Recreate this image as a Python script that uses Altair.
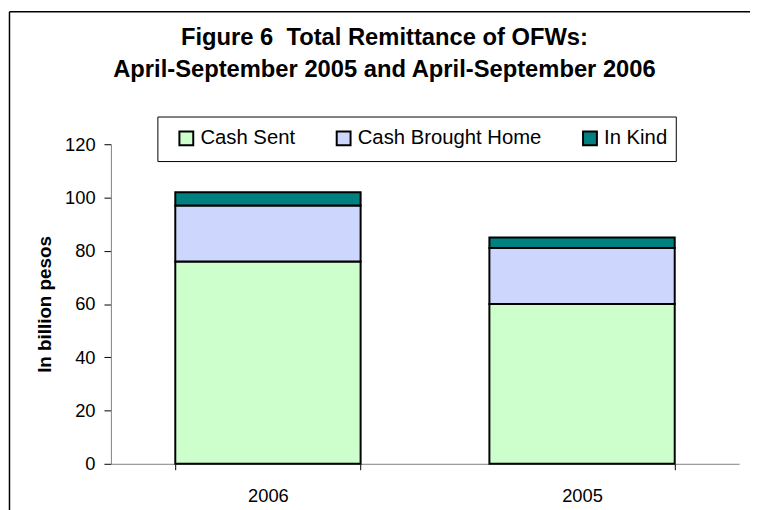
import altair as alt
import pandas as pd

years = ["2006", "2005"]
categories = ["Cash Sent", "Cash Brought Home", "In Kind"]
cash_sent = [76, 60]
cash_brought_home = [21, 21]
in_kind = [5, 4]
colors = ["#ccffcc", "#cdd7fd", "#008080"]
y_ticks = [0, 20, 40, 60, 80, 100, 120]
title_lines = ["Figure 6\u00a0 Total Remittance of OFWs:",
               "April-September 2005 and April-September 2006"]

rows = []
for i, yr in enumerate(years):
    for j, (c, vals) in enumerate(zip(categories, [cash_sent, cash_brought_home, in_kind])):
        rows.append({"year": yr, "type": c, "value": vals[i], "order": j})
df = pd.DataFrame(rows)

W, H = 635, 323
PL, PT = 104, 135
FONT = "Liberation Sans"

bars = alt.Chart(df).mark_bar(stroke="black", strokeWidth=2).encode(
    x=alt.X("year:N", sort=years,
            scale=alt.Scale(paddingInner=0.41, paddingOuter=0.205),
            axis=alt.Axis(title=None, labelAngle=0, tickBand="extent",
                          domainColor="#808080", tickColor="black", tickSize=6,
                          labelPadding=17, labelFontSize=18.5, labelFont=FONT,
                          labelColor="black")),
    y=alt.Y("value:Q", stack="zero", scale=alt.Scale(domain=[0, 120], nice=False),
            axis=alt.Axis(values=y_ticks, title="In billion pesos", grid=False,
                          domainColor="#808080", tickColor="black", tickSize=7,
                          labelPadding=9, labelFontSize=18.5, labelFont=FONT,
                          labelColor="black", titleFontSize=19, titleFont=FONT,
                          titleFontWeight="bold", titleColor="black", titlePadding=10)),
    color=alt.Color("type:N", sort=categories,
                    scale=alt.Scale(domain=categories, range=colors),
                    legend=alt.Legend(title=None, orient="none", legendX=66, legendY=-16.5,
                                      direction="horizontal", symbolType="square",
                                      symbolSize=196, symbolStrokeColor="black",
                                      symbolStrokeWidth=2, labelFontSize=20.5,
                                      labelFont=FONT, labelColor="black", labelLimit=400,
                                      padding=0, columnPadding=37, labelOffset=4)),
    order=alt.Order("order:Q"),
)

deco_df = pd.DataFrame({"k": [0]})
frame_left = alt.Chart(deco_df).mark_rule(color="black", strokeWidth=1.5).encode(
    x=alt.value(-102.5), y=alt.value(-134), y2=alt.value(H + 200))
frame_top = alt.Chart(deco_df).mark_rule(color="black", strokeWidth=1.5).encode(
    x=alt.value(-102.5), x2=alt.value(W + 100), y=alt.value(-134))
legend_box = alt.Chart(deco_df).mark_rect(fill="white", stroke="black", strokeWidth=1).encode(
    x=alt.value(47.5), x2=alt.value(571.5), y=alt.value(-27.5), y2=alt.value(17.5))

chart = alt.layer(frame_left, frame_top, bars, legend_box).properties(
    width=W, height=H,
    title=alt.TitleParams(text=title_lines, fontSize=24, font=FONT, fontWeight="bold",
                          color="black", lineHeight=33, anchor="middle", frame="group",
                          dx=-41, offset=-72),
    autosize=alt.AutoSizeParams(type="none"),
    padding={"left": PL, "top": PT, "right": 11, "bottom": 44},
).configure(background="white", view=alt.ViewConfig(stroke=None))

chart.save("out.html", embed_options={"renderer": "svg", "actions": False})
